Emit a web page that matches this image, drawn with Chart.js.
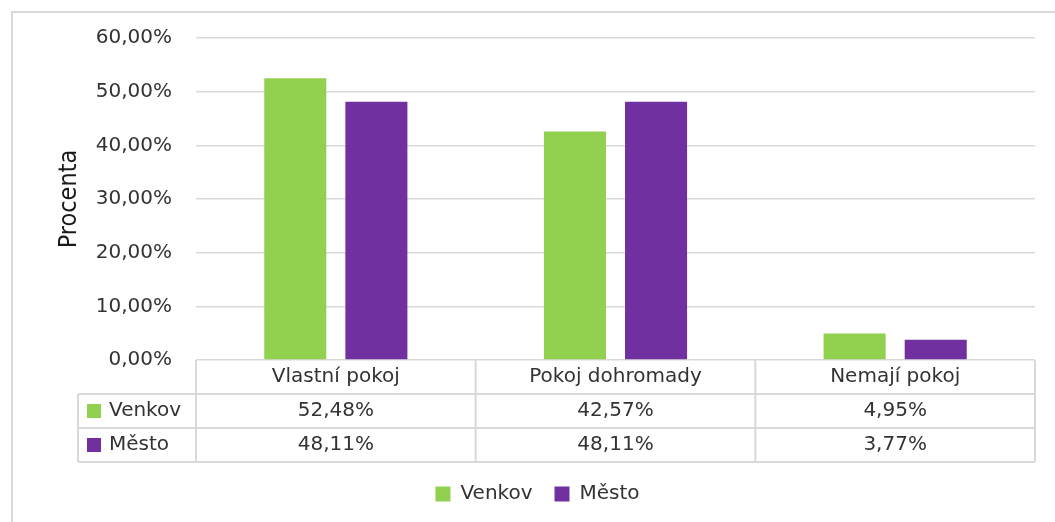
<!DOCTYPE html>
<html>
<head>
<meta charset="utf-8">
<script src="https://cdn.jsdelivr.net/npm/chart.js@4"></script>
<style>
  body { margin: 0; background: #fff; }
</style>
</head>
<body>
<canvas id="graf" width="1055" height="522"></canvas>
<script>
// data ---------------------
const categories = ["Vlastní pokoj", "Pokoj dohromady", "Nemají pokoj"];
const seriesNames = ["Venkov", "Město"];
const venkov = [52.48, 42.57, 4.95];
const mesto = [48.11, 48.11, 3.77];
const yMax = 60;
const yStep = 10;

const green = "#92d050";
const purple = "#7030a0";
const gridColor = "#d9d9d9";
const textColor = "#333333";
const fontFamily = "'DejaVu Sans', sans-serif";

const pct = (v) => v.toFixed(2).replace(".", ",") + "%";

// frame around the whole chart
const frame = {
  id: "frame",
  beforeDraw(chart) {
    const ctx = chart.ctx;
    ctx.save();
    ctx.fillStyle = "#fff";
    ctx.fillRect(0, 0, chart.width, chart.height);
    ctx.strokeStyle = gridColor;
    ctx.lineWidth = 2;
    ctx.beginPath();
    ctx.moveTo(12, chart.height);
    ctx.lineTo(12, 12);
    ctx.lineTo(chart.width, 12);
    ctx.stroke();
    ctx.restore();
  },
};

// data table under the x axis
const dataTable = {
  id: "dataTable",
  afterDraw(chart) {
    const ctx = chart.ctx;
    const x = chart.scales.x;
    const top = chart.chartArea.bottom;
    const bottom = x.bottom;
    const rowH = (bottom - top) / 3;
    const colW = (x.right - x.left) / categories.length;
    const keyLeft = x.left - 118;
    const rows = [venkov, mesto];
    const colors = [green, purple];

    ctx.save();
    ctx.strokeStyle = gridColor;
    ctx.lineWidth = 2;
    ctx.beginPath();
    // horizontal lines
    for (let r = 1; r <= 3; r++) {
      const y = top + r * rowH;
      ctx.moveTo(keyLeft, y);
      ctx.lineTo(x.right, y);
    }
    // vertical lines
    ctx.moveTo(keyLeft, top + rowH);
    ctx.lineTo(keyLeft, bottom);
    for (let c = 0; c <= categories.length; c++) {
      const xx = x.left + c * colW;
      ctx.moveTo(xx, top);
      ctx.lineTo(xx, bottom);
    }
    ctx.stroke();

    ctx.font = "20px " + fontFamily;
    ctx.fillStyle = textColor;
    ctx.textBaseline = "middle";
    ctx.textAlign = "center";
    categories.forEach((cat, i) => {
      const cx = x.getPixelForValue(i);
      ctx.fillText(cat, cx, top + rowH / 2);
      rows.forEach((vals, r) => {
        ctx.fillText(pct(vals[i]), cx, top + (r + 1.5) * rowH);
      });
    });

    // row keys
    ctx.textAlign = "left";
    seriesNames.forEach((name, r) => {
      const cy = top + (r + 1.5) * rowH;
      ctx.fillStyle = colors[r];
      ctx.fillRect(keyLeft + 9, cy - 7, 14, 14);
      ctx.fillStyle = textColor;
      ctx.fillText(name, keyLeft + 31, cy);
    });
    ctx.restore();
  },
};

const data = {
  labels: categories,
  datasets: [
    {
      label: seriesNames[0],
      data: venkov,
      backgroundColor: green,
      categoryPercentage: 0.58,
      barPercentage: 0.765,
    },
    {
      label: seriesNames[1],
      data: mesto,
      backgroundColor: purple,
      categoryPercentage: 0.58,
      barPercentage: 0.765,
    },
  ],
};

const config = {
  type: "bar",
  data: data,
  plugins: [frame, dataTable],
  options: {
    responsive: false,
    animation: false,
    devicePixelRatio: 1,
    layout: { padding: { top: 38, right: 20, left: 40, bottom: 8 } },
    plugins: {
      tooltip: { enabled: false },
      legend: {
        position: "bottom",
        labels: {
          boxWidth: 15,
          boxHeight: 15,
          padding: 22,
          color: textColor,
          font: { family: fontFamily, size: 20 },
        },
      },
    },
    scales: {
      x: {
        grid: { display: false },
        border: { display: false },
        ticks: { display: false },
        afterFit(s) {
          s.height = 102;
        },
      },
      y: {
        min: 0,
        max: yMax,
        ticks: {
          stepSize: yStep,
          padding: 24,
          color: textColor,
          font: { family: fontFamily, size: 20 },
          callback: (v) => pct(v),
        },
        grid: { color: gridColor, lineWidth: 1.5, drawTicks: false },
        border: { display: false },
        title: {
          display: true,
          text: "Procenta",
          color: "#1a1a1a",
          padding: { top: 14, bottom: 0 },
          font: { family: "'Liberation Sans Narrow', 'DejaVu Sans Condensed', sans-serif", size: 25 },
        },
        afterFit(s) {
          s.width = 156;
        },
      },
    },
  },
};

new Chart(document.getElementById("graf"), config);
</script>
</body>
</html>
